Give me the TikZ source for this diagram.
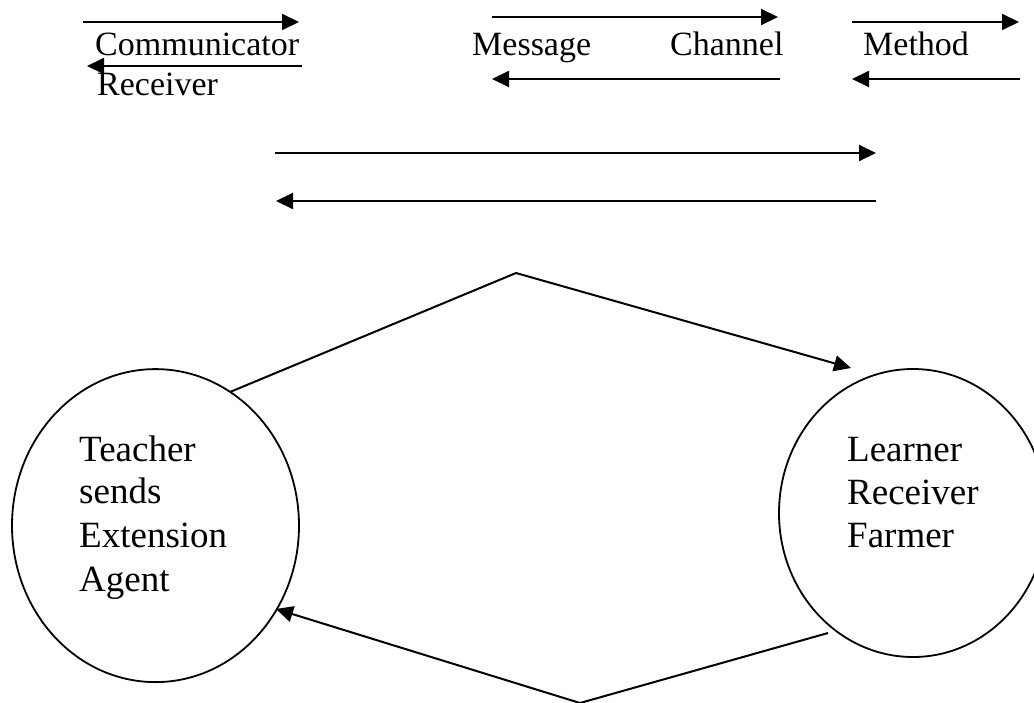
\documentclass[tikz,border=0pt]{standalone}
\usepackage{fontspec}
\setmainfont{Liberation Serif}
\usetikzlibrary{arrows.meta,shapes.geometric}
\begin{document}
\begin{tikzpicture}[x=1pt,y=-1pt,
  conn/.style={line width=2pt,-{Triangle[length=17pt,width=16pt]}},
  plain/.style={line width=2pt},
  toplabel/.style={anchor=base west,inner sep=0pt,font=\fontsize{34}{40}\selectfont},
  circlabel/.style={anchor=base west,inner sep=0pt,font=\fontsize{37}{43}\selectfont},
  party/.style={draw,ellipse,line width=1.8pt,inner sep=0pt}]
\useasboundingbox (0,0) rectangle (1034,702);
\clip (0,0) rectangle (1034,702);
\fill[white] (0,0) rectangle (1034,702);

% top labels
\node[toplabel] (comm) at (95,55) {Communicator};
\node[toplabel] (recv) at (97,95) {Receiver};
\node[toplabel] (msg) at (472,55) {Message};
\node[toplabel] (chan) at (670,55) {Channel};
\node[toplabel] (meth) at (863,55) {Method};

% top arrows
\coordinate (a1s) at (83,22);   \coordinate (a1e) at (299,22);
\coordinate (a2s) at (302,66);  \coordinate (a2e) at (87,66);
\coordinate (a3s) at (492,17);  \coordinate (a3e) at (778,17);
\coordinate (a4s) at (780,79);  \coordinate (a4e) at (492,79);
\coordinate (a5s) at (852,22);  \coordinate (a5e) at (1019,22);
\coordinate (a6s) at (1020,79); \coordinate (a6e) at (852,79);
\coordinate (a7s) at (275,153); \coordinate (a7e) at (876,153);
\coordinate (a8s) at (876,201); \coordinate (a8e) at (276,201);
\foreach \i in {1,...,8} {\draw[conn] (a\i s) -- (a\i e);}

% circles
\node[party,minimum width=287pt,minimum height=313pt] (teacher) at (155.5,525.6) {};
\node[party,minimum width=268pt,minimum height=288pt] (learner) at (913,513) {};

\node[circlabel] (t1) at (79,461) {Teacher};
\node[circlabel] (t2) at (79,503) {sends};
\node[circlabel] (t3) at (79,547) {Extension};
\node[circlabel] (t4) at (79,591) {Agent};

\node[circlabel] (l1) at (847,461) {Learner};
\node[circlabel] (l2) at (847,504) {Receiver};
\node[circlabel] (l3) at (847,547) {Farmer};

% diagonal connectors
\coordinate (d1s) at (230,392);
\coordinate (d1v) at (516,273);
\coordinate (d1e) at (851,368);
\draw[plain] (d1s) -- (d1v);
\draw[conn] (d1v) -- (d1e);

\coordinate (d2s) at (828,633);
\coordinate (d2v) at (580,703);
\coordinate (d2e) at (276,609);
\draw[plain] (d2s) -- (d2v);
\draw[conn] (d2v) -- (d2e);
\end{tikzpicture}
\end{document}
